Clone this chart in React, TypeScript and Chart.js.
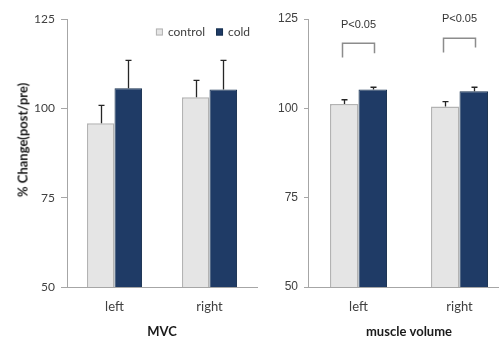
import React, { useEffect, useRef } from "react";
import { Chart, registerables } from "chart.js";

Chart.register(...registerables);

const categories = ["left", "right"];
const seriesNames = ["control", "cold"];

// MVC panel
const mvcControl = [95.8, 103.1];
const mvcCold = [105.6, 105.3];
const mvcControlErr = [100.8, 107.8];
const mvcColdErr = [113.4, 113.4];

// muscle volume panel
const volControl = [101.2, 100.5];
const volCold = [105.3, 104.8];
const volControlErr = [102.4, 101.9];
const volColdErr = [105.9, 105.9];

// significance brackets (muscle volume)
const sigLabels = ["P<0.05", "P<0.05"];
const sigTextY = [123.2, 124.9];
const sigBracketTop = [118.2, 119.6];
const sigLegLeftBottom = [114.2, 115.6];
const sigLegRightBottom = [115.4, 117.0];

const yTicks = [50, 75, 100, 125];
const yTitle = "% Change(post/pre)";
const mvcTitle = "MVC";
const volTitle = "muscle volume";

const CONTROL_FILL = "#e5e5e5";
const CONTROL_BORDER = "#b3b3b3";
const COLD_FILL = "#1f3b66";
const COLD_BORDER = "#17304f";
const AXIS = "#a6a6a6";
const TEXT = "#404040";

const errorBarPlugin = (errs: number[][]) => ({
  id: "errbars",
  afterDatasetsDraw(chart: any) {
    const ctx = chart.ctx;
    const y = chart.scales.y;
    ctx.save();
    ctx.strokeStyle = "#262626";
    ctx.lineWidth = 1.3;
    chart.data.datasets.forEach((_: any, di: number) => {
      const meta = chart.getDatasetMeta(di);
      meta.data.forEach((bar: any, i: number) => {
        const top = y.getPixelForValue(errs[di][i]);
        const x = Math.round(bar.x) + 0.5;
        ctx.beginPath();
        ctx.moveTo(x, bar.y);
        ctx.lineTo(x, top);
        ctx.moveTo(x - 3, top);
        ctx.lineTo(x + 3, top);
        ctx.stroke();
      });
    });
    ctx.restore();
  },
});

const legendPlugin = {
  id: "customLegend",
  afterDraw(chart: any) {
    const ctx = chart.ctx;
    const area = chart.chartArea;
    ctx.save();
    ctx.font = "12px Lato";
    const box = 7;
    const gap = 5;
    const itemGap = 11;
    const items = chart.data.datasets.map((d: any) => ({
      label: d.label,
      fill: d.backgroundColor,
      border: d.borderColor,
      w: box + gap + ctx.measureText(d.label).width,
    }));
    const total = items.reduce((s: number, it: any) => s + it.w, 0) + itemGap * (items.length - 1);
    let x = area.right - 7 - total;
    const cy = area.top + 13;
    items.forEach((it: any) => {
      ctx.fillStyle = it.fill;
      ctx.fillRect(x, cy - box / 2, box, box);
      ctx.strokeStyle = it.border;
      ctx.lineWidth = 1;
      ctx.strokeRect(x + 0.5, cy - box / 2 + 0.5, box - 1, box - 1);
      ctx.fillStyle = TEXT;
      ctx.textBaseline = "middle";
      ctx.textAlign = "left";
      ctx.fillText(it.label, x + box + gap, cy + 0.5);
      x += it.w + itemGap;
    });
    ctx.restore();
  },
};

const sigPlugin = {
  id: "sig",
  afterDraw(chart: any) {
    const ctx = chart.ctx;
    const xs = chart.scales.x;
    const ys = chart.scales.y;
    ctx.save();
    ctx.strokeStyle = "#8c8c8c";
    ctx.lineWidth = 1.5;
    ctx.fillStyle = "#333";
    ctx.font = "11px 'Liberation Sans'";
    ctx.textAlign = "center";
    ctx.textBaseline = "middle";
    categories.forEach((_, i) => {
      const cx = xs.getPixelForValue(i);
      const x0 = cx - 16;
      const x1 = cx + 16;
      ctx.beginPath();
      ctx.moveTo(x0, ys.getPixelForValue(sigLegLeftBottom[i]));
      ctx.lineTo(x0, ys.getPixelForValue(sigBracketTop[i]));
      ctx.lineTo(x1, ys.getPixelForValue(sigBracketTop[i]));
      ctx.lineTo(x1, ys.getPixelForValue(sigLegRightBottom[i]));
      ctx.stroke();
      ctx.fillText(sigLabels[i], cx, ys.getPixelForValue(sigTextY[i]));
    });
    ctx.restore();
  },
};

function makeConfig(
  control: number[],
  cold: number[],
  title: string,
  yWidth: number,
  padRight: number,
  catPct: number,
  tickFont: any,
  tickLen: number,
  plugins: any[]
): any {
  return {
    type: "bar",
    data: {
      labels: categories,
      datasets: [
        {
          label: seriesNames[0],
          data: control,
          backgroundColor: CONTROL_FILL,
          borderColor: CONTROL_BORDER,
          borderWidth: 1.5,
        },
        {
          label: seriesNames[1],
          data: cold,
          backgroundColor: COLD_FILL,
          borderColor: COLD_BORDER,
          borderWidth: 1,
        },
      ],
    },
    options: {
      responsive: false,
      animation: false,
      layout: { padding: { left: 0, right: padRight, top: 19, bottom: 0 } },
      datasets: { bar: { categoryPercentage: catPct, barPercentage: 1 } },
      plugins: { legend: { display: false }, tooltip: { enabled: false } },
      scales: {
        x: {
          grid: { display: false, drawTicks: false },
          border: { display: true, color: AXIS, width: 1 },
          ticks: { color: TEXT, font: { family: "Lato", size: 13 }, padding: 12 },
          title: {
            display: true,
            text: title,
            color: "#1a1a1a",
            font: { family: "Lato", size: 13, weight: "bold" },
            padding: { top: 0, bottom: 0 },
          },
          afterFit: (s: any) => {
            s.height = 53;
          },
        },
        y: {
          min: 50,
          max: 125,
          afterBuildTicks: (s: any) => {
            s.ticks = yTicks.map((v) => ({ value: v }));
          },
          grid: { drawOnChartArea: false, drawTicks: true, tickLength: tickLen, color: AXIS },
          border: { display: true, color: AXIS, width: 1 },
          ticks: { color: TEXT, font: tickFont, padding: 6 },
          afterFit: (s: any) => {
            s.width = yWidth;
          },
        },
      },
    },
    plugins,
  };
}

function ChartCanvas({ config, width, height, left }: any) {
  const ref = useRef<HTMLCanvasElement | null>(null);
  useEffect(() => {
    if (!ref.current) return;
    const chart = new Chart(ref.current, config);
    return () => chart.destroy();
  }, []);
  return (
    <canvas
      ref={ref}
      width={width}
      height={height}
      style={{ position: "absolute", left, top: 0, width, height }}
    />
  );
}

export default function App() {
  const mvcConfig = makeConfig(
    mvcControl,
    mvcCold,
    mvcTitle,
    67,
    3,
    0.58,
    { family: "Lato", size: 12 },
    6,
    [errorBarPlugin([mvcControlErr, mvcColdErr]), legendPlugin]
  );
  const volConfig = makeConfig(
    volControl,
    volCold,
    volTitle,
    46,
    12,
    0.565,
    { family: "Liberation Sans", size: 12 },
    4,
    [errorBarPlugin([volControlErr, volColdErr]), sigPlugin]
  );
  return (
    <div
      style={{
        position: "absolute",
        left: 0,
        top: 0,
        width: 499,
        height: 340,
        overflow: "hidden",
        background: "#fff",
      }}
    >
      <ChartCanvas config={mvcConfig} width={260} height={340} left={0} />
      <ChartCanvas config={volConfig} width={260} height={340} left={262} />
      <div
        style={{
          position: "absolute",
          left: 23,
          top: 140,
          transform: "translate(-50%, -50%) rotate(-90deg)",
          whiteSpace: "nowrap",
          fontFamily: "Lato",
          fontWeight: "bold",
          fontSize: 13,
          color: "#1a1a1a",
          lineHeight: 1,
        }}
      >
        {yTitle}
      </div>
    </div>
  );
}
